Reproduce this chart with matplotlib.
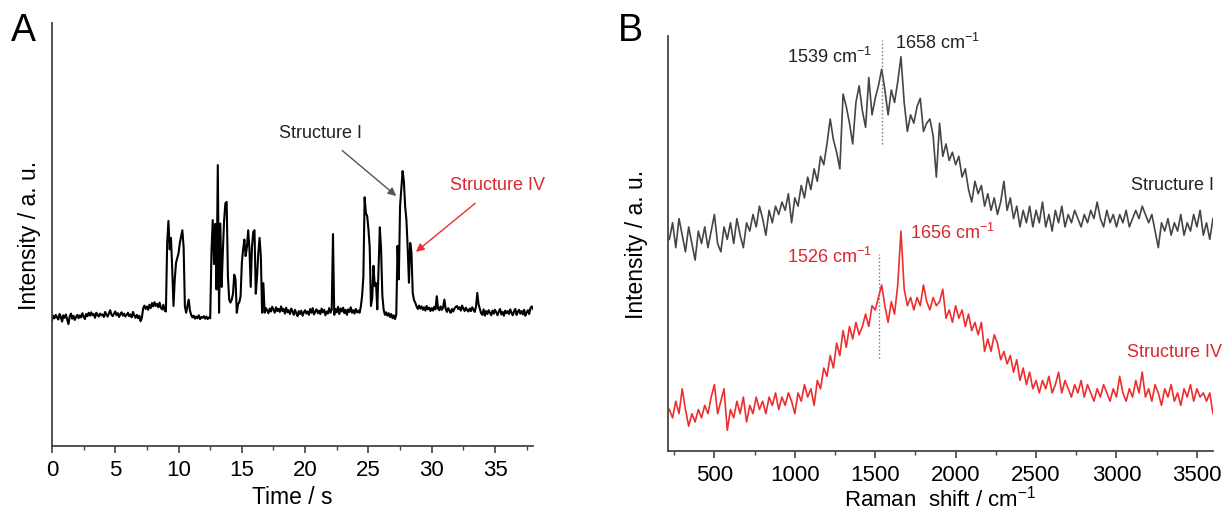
import numpy as np
import matplotlib
matplotlib.use("Agg")
import matplotlib.pyplot as plt
from matplotlib.ticker import MultipleLocator

plt.rcParams["font.family"] = ["Liberation Sans", "DejaVu Sans"]
plt.rcParams["mathtext.default"] = "regular"

# ---- panel A: time trace (sampled every 0.1 s, intensity in a.u.) ----
time_step_s = 0.1
trace_a = [
    29.6, 30.8, 30.2, 31.0, 30.4, 29.9, 31.2, 30.5, 29.4, 30.9,
    30.3, 31.1, 30.0, 28.8, 30.6, 31.3, 30.1, 30.8, 29.8, 30.5,
    31.0, 30.2, 30.9, 30.4, 31.4, 30.6, 30.0, 31.2, 30.7, 31.5,
    30.8, 31.6, 30.9, 31.2, 30.3, 31.5, 31.0, 30.6, 31.3, 30.9,
    31.1, 30.5, 31.7, 31.0, 30.6, 31.4, 32.1, 31.0, 30.7, 31.3,
    31.8, 30.9, 31.4, 30.5, 31.2, 31.6, 30.8, 31.3, 30.6, 31.0,
    31.5, 30.7, 31.1, 30.4, 31.7, 30.9, 30.3, 31.0, 30.2, 30.8,
    29.5, 30.3, 32.5, 33.2, 32.4, 33.0, 32.2, 33.4, 32.6, 33.8,
    33.0, 34.0, 33.1, 33.6, 32.8, 33.9, 32.7, 32.3, 33.4, 32.0,
    31.8, 48.0, 53.2, 46.5, 49.2, 41.8, 33.1, 39.4, 43.3, 44.5,
    45.6, 48.0, 49.5, 51.0, 47.0, 33.0, 31.5, 33.0, 34.6, 32.0,
    31.0, 30.4, 30.8, 30.1, 30.6, 30.2, 30.9, 30.0, 30.5, 30.3,
    30.7, 30.1, 30.6, 30.0, 30.4, 30.2, 46.0, 53.4, 43.0, 52.5,
    37.0, 66.4, 31.5, 52.6, 37.6, 46.0, 53.4, 57.4, 57.7, 40.0,
    34.6, 33.9, 34.6, 36.0, 40.5, 39.4, 31.5, 33.5, 34.0, 35.4,
    43.3, 46.5, 48.8, 44.9, 47.0, 51.0, 46.5, 37.6, 47.0, 50.6,
    51.0, 36.0, 40.0, 45.6, 49.2, 44.9, 31.5, 38.5, 31.5, 32.6,
    32.0, 31.4, 32.5, 31.8, 32.9, 32.2, 31.5, 32.8, 31.9, 32.4,
    31.7, 33.0, 31.9, 32.4, 31.3, 32.7, 31.6, 32.1, 31.2, 32.5,
    31.8, 31.0, 32.2, 31.4, 30.7, 31.9, 31.2, 32.0, 30.8, 31.6,
    32.1, 31.3, 31.8, 31.0, 32.4, 31.5, 32.6, 31.1, 31.8, 32.3,
    31.4, 32.0, 31.2, 32.5, 31.6, 32.2, 30.9, 31.8, 31.3, 32.6,
    31.5, 32.2, 50.1, 31.0, 32.4, 31.6, 32.9, 31.2, 32.5, 31.8,
    32.7, 31.4, 32.2, 31.0, 32.3, 31.7, 32.8, 31.5, 32.1, 31.3,
    32.4, 31.6, 32.0, 31.5, 33.0, 35.5, 40.0, 58.8, 55.0, 54.4,
    51.3, 47.0, 33.1, 35.0, 42.6, 37.8, 38.5, 32.3, 42.0, 51.7,
    46.5, 35.5, 32.3, 31.0, 31.6, 30.8, 31.4, 30.5, 31.2, 30.2,
    30.9, 30.0, 31.0, 47.3, 39.4, 56.7, 61.0, 65.0, 62.6, 56.7,
    53.5, 47.0, 38.6, 48.0, 45.7, 36.2, 34.5, 33.9, 33.0, 32.4,
    33.2, 32.5, 33.0, 32.2, 32.8, 32.0, 33.1, 32.3, 32.7, 31.9,
    32.6, 32.0, 32.9, 32.3, 35.4, 32.5, 32.1, 33.0, 32.2, 32.8,
    34.6, 32.4, 31.7, 32.6, 32.0, 31.5, 32.4, 31.8, 32.5, 32.9,
    33.1, 32.4, 32.8, 32.0, 33.2, 32.5, 31.9, 32.7, 32.1, 31.8,
    32.5, 31.9, 32.8, 32.2, 31.7, 33.0, 36.2, 33.5, 32.4, 31.4,
    31.0, 32.3, 30.8, 31.9, 31.2, 32.1, 31.5, 30.9, 32.0, 31.3,
    32.2, 31.6, 30.9, 31.8, 32.4, 31.1, 31.7, 30.8, 32.0, 31.4,
    31.9, 31.2, 32.3, 31.5, 30.9, 31.8, 32.4, 31.0, 31.7, 32.2,
    31.3, 31.9, 31.1, 32.2, 30.8, 31.6, 32.1, 31.2, 32.6, 33.0,
    32.4,
]
time_s = np.arange(len(trace_a)) * time_step_s

# ---- panel B: Raman spectra (every 20 cm-1 from 220 to 3600) ----
raman_start, raman_step = 220, 20
spec_structure_I = [
    51, 55, 49, 56, 52, 48, 54, 50, 46, 53,
    50, 54, 49, 53, 57, 50, 48, 54, 51, 55,
    50, 56, 52, 49, 55, 53, 57, 54, 59, 56,
    52, 58, 55, 59, 57, 60, 58, 62, 55, 61,
    59, 64, 61, 66, 63, 68, 65, 71, 69, 74,
    80, 75, 72, 68, 86, 83, 79, 74, 84, 88,
    82, 78, 90, 81, 85, 88, 92, 87, 81, 87,
    84, 89, 95, 84, 77, 81, 79, 83, 85, 77,
    79, 80, 76, 66, 79, 71, 74, 70, 72, 69,
    71, 66, 68, 63, 60, 65, 62, 64, 59, 62,
    58, 61, 57, 60, 65, 58, 61, 56, 59, 54,
    58, 55, 59, 54, 58, 55, 60, 54, 57, 53,
    58, 55, 59, 54, 57, 55, 58, 56, 54, 57,
    55, 58, 56, 60, 56, 54, 58, 55, 57, 54,
    57, 55, 58, 54, 56, 58, 56, 59, 57, 55,
    57, 53, 49, 55, 53, 56, 52, 55, 53, 57,
    52, 55, 53, 57, 54, 58, 52, 55, 51, 56,
]
spec_structure_IV = [
    10, 8, 12, 9, 15, 10, 6, 9, 7, 10,
    8, 11, 9, 13, 16, 9, 12, 15, 5, 10,
    8, 12, 9, 13, 7, 11, 9, 13, 10, 12,
    9, 13, 11, 14, 10, 13, 11, 14, 12, 9,
    14, 12, 16, 13, 15, 11, 17, 15, 20, 18,
    23, 20, 26, 23, 29, 25, 30, 27, 31, 28,
    30, 33, 30, 35, 34, 37, 40, 35, 31, 36,
    33, 40, 53, 39, 35, 37, 34, 37, 35, 40,
    36, 34, 37, 35, 36, 39, 32, 34, 31, 35,
    32, 34, 30, 33, 29, 31, 28, 31, 24, 27,
    24, 28, 26, 22, 24, 21, 23, 19, 22, 17,
    20, 16, 19, 15, 17, 14, 17, 15, 18, 14,
    16, 19, 14, 17, 15, 13, 16, 14, 17, 13,
    16, 14, 12, 15, 13, 16, 14, 12, 15, 13,
    18, 14, 12, 15, 13, 17, 14, 19, 13, 15,
    12, 16, 14, 11, 15, 13, 16, 12, 14, 11,
    15, 13, 16, 12, 15, 13, 14, 12, 14, 9,
]
raman_shift = raman_start + raman_step * np.arange(len(spec_structure_I))

peak_labels_I = [1539, 1658]
peak_labels_IV = [1526, 1656]

RED = "#ee2e2e"
RED_TXT = "#d9282d"
GREY = "#454545"
AX = "#444444"

fig = plt.figure(figsize=(12.23, 5.10), dpi=100)
ax_a = fig.add_axes([0.0425, 0.1235, 0.3933, 0.8295])
ax_b = fig.add_axes([0.546, 0.1137, 0.4458, 0.8137])

for ax in (ax_a, ax_b):
    for s in ("top", "right"):
        ax.spines[s].set_visible(False)
    for s in ("left", "bottom"):
        ax.spines[s].set_color(AX)
        ax.spines[s].set_linewidth(1.3)
    ax.set_yticks([])
    ax.tick_params(axis="x", which="major", direction="out", length=5, width=1.2,
                   color=AX, labelsize=16, pad=4)
    ax.tick_params(axis="x", which="minor", direction="out", length=3, width=1.0, color=AX)
    ax.set_ylim(0, 100)

ax_a.set_ylabel("Intensity / a. u.", fontsize=16.5, labelpad=8)
ax_b.set_ylabel("Intensity / a. u.", fontsize=16.5, labelpad=14)

# panel A
ax_a.plot(time_s, trace_a, color="black", lw=1.5)
ax_a.set_xlim(0, 38)
ax_a.xaxis.set_major_locator(MultipleLocator(5))
ax_a.xaxis.set_minor_locator(MultipleLocator(2.5))
ax_a.set_xlabel("Time / s", fontsize=16.5, labelpad=4)

ax_a.annotate("Structure I", xy=(27.2, 59.1), xytext=(21.2, 74.2), fontsize=13,
              color="#222222", ha="center", va="center",
              arrowprops=dict(arrowstyle="-|>", color="#555555", lw=1.0,
                              shrinkA=8, shrinkB=0, mutation_scale=12))
ax_a.annotate("Structure IV", xy=(28.75, 45.9), xytext=(35.2, 61.7), fontsize=13,
              color=RED_TXT, ha="center", va="center", annotation_clip=False,
              arrowprops=dict(arrowstyle="-|>", color=RED, lw=1.0,
                              shrinkA=8, shrinkB=0, mutation_scale=12))

# panel B
ax_b.plot(raman_shift, spec_structure_I, color=GREY, lw=1.2)
ax_b.plot(raman_shift, spec_structure_IV, color=RED, lw=1.2)
ax_b.set_xlim(210, 3600)
ax_b.xaxis.set_major_locator(MultipleLocator(500))
ax_b.xaxis.set_minor_locator(MultipleLocator(250))
ax_b.set_xlabel("Raman  shift / cm$^{-1}$", fontsize=16, labelpad=0)

ax_b.plot([peak_labels_I[0]] * 2, [74, 99], color="#777777", lw=1.0, ls=":")
ax_b.plot([peak_labels_IV[0]] * 2, [22.5, 47.5], color="#777777", lw=1.0, ls=":")

ax_b.text(1481, 95.2, f"{peak_labels_I[0]} cm$^{{-1}}$", fontsize=13, color="#222222",
          ha="right", va="center")
ax_b.text(1625, 98.6, f"{peak_labels_I[1]} cm$^{{-1}}$", fontsize=13, color="#222222",
          ha="left", va="center", clip_on=False)
ax_b.text(1481, 47.0, f"{peak_labels_IV[0]} cm$^{{-1}}$", fontsize=13, color=RED_TXT,
          ha="right", va="center")
ax_b.text(1719, 52.8, f"{peak_labels_IV[1]} cm$^{{-1}}$", fontsize=13, color=RED_TXT,
          ha="left", va="center")
ax_b.text(3606, 64.3, "Structure I", fontsize=13, color="#222222",
          ha="right", va="center", clip_on=False)
ax_b.text(3656, 23.9, "Structure IV", fontsize=13, color=RED_TXT,
          ha="right", va="center", clip_on=False)

fig.text(0.009, 0.975, "A", fontsize=27, ha="left", va="top")
fig.text(0.505, 0.975, "B", fontsize=27, ha="left", va="top")

fig.savefig("out.png", dpi=100)
